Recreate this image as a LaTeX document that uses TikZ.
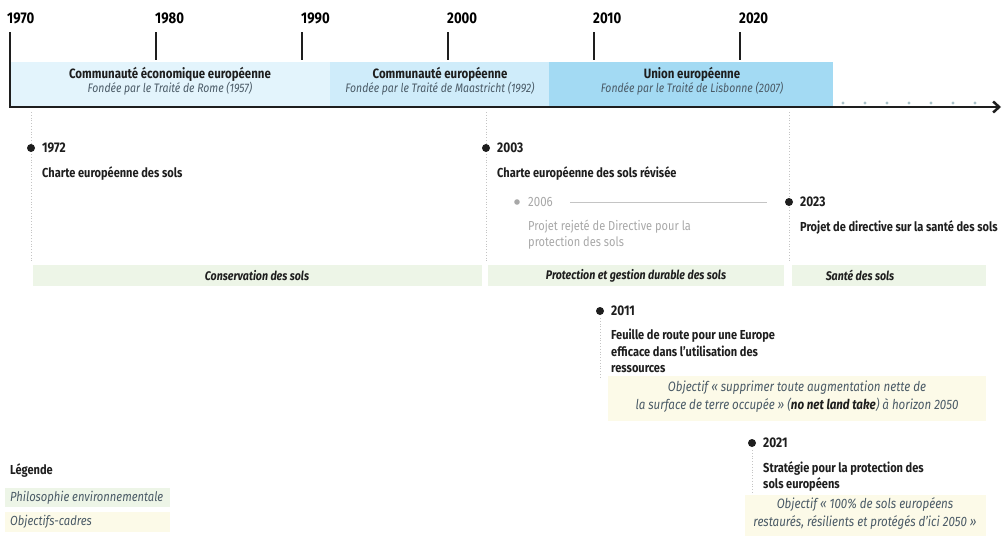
\documentclass[tikz,border=0pt]{standalone}
\usepackage{fontspec}
\setmainfont{Fira Sans}[FakeStretch=0.85]
\usetikzlibrary{positioning,arrows.meta}

\definecolor{ceeblue}{HTML}{E3F4FC}
\definecolor{ceblue}{HTML}{CFECFA}
\definecolor{ueblue}{HTML}{A3DAF3}
\definecolor{philogreen}{HTML}{EDF5E7}
\definecolor{objyellow}{HTML}{FCFAE8}
\definecolor{fadegrey}{HTML}{A8A8A8}
\definecolor{subgrey}{HTML}{4A5A66}
\definecolor{trailgrey}{HTML}{A9C2C8}
\definecolor{dotline}{HTML}{C4C4C4}
\definecolor{inkblack}{HTML}{1E1E1E}

\begin{document}
\begin{tikzpicture}[x=1pt,y=-1pt,every path/.style={>=latex},
	decade/.style={anchor=south west,inner sep=0pt,font=\fontsize{15.5}{16}\selectfont\bfseries},
	bandtitle/.style={inner sep=0pt,font=\fontsize{13.5}{14}\selectfont\bfseries,text=inkblack},
	bandsub/.style={inner sep=0pt,font=\fontsize{12.3}{13}\selectfont\itshape,text=subgrey},
	evyear/.style={anchor=west,inner sep=0pt,font=\fontsize{14}{14}\selectfont\bfseries,text=inkblack},
	evtext/.style={inner sep=0pt,align=left,font=\fontsize{13}{16.5}\selectfont\bfseries,text=inkblack},
	theme/.style={inner sep=0pt,font=\fontsize{12.5}{13}\selectfont\bfseries\itshape,text=inkblack},
	objtext/.style={inner sep=0pt,align=center,font=\fontsize{13.6}{18}\selectfont\itshape,text=subgrey},
	legtext/.style={anchor=west,inner sep=0pt,font=\fontsize{13.2}{14}\selectfont\itshape,text=subgrey},
	guide/.style={dotline,dotted,line width=0.8pt}]
	\useasboundingbox (0,0) rectangle (1004,536);

	% draw background for the treaties
	\fill[ceeblue] (10,62) rectangle (330,106);
	\fill[ceblue] (330,62) rectangle (549,106);
	\fill[ueblue] (549,62) rectangle (833,106);

	% draw decades
	\foreach \yr/\x in {1980/156,1990/302,2000/448,2010/594,2020/740}
	{
		\node[decade] (y\yr) at (\x-1,24) {\yr};
		\draw[line width=2.2pt,inkblack] (\x,32) -- (\x,60);
	}
	\node[decade] (y1970) at (7,24) {1970};

	% draw axis
	\coordinate (axstart) at (10,32);
	\coordinate (axcorner) at (10,107);
	\coordinate (axend) at (1001,107);
	\draw[line width=2.5pt,inkblack,-{Straight Barb[length=6pt,width=11pt]}] (axstart) -- (axcorner) -- (axend);

	% draw dots after 2023
	\foreach \x in {843,865,...,975}
	{
		\fill[trailgrey] (\x,103) circle (1.6pt);
	}

	% draw treaty names
	\node[bandtitle] (cee) at (170,74) {Communauté économique européenne};
	\node[bandsub] (ceesub) at (170,89) {Fondée par le Traité de Rome (1957)};
	\node[bandtitle] (ce) at (440,74) {Communauté européenne};
	\node[bandsub] (cesub) at (440,89) {Fondée par le Traité de Maastricht (1992)};
	\node[bandtitle] (ue) at (692,74) {Union européenne};
	\node[bandsub] (uesub) at (692,89) {Fondée par le Traité de Lisbonne (2007)};

	% draw green bands
	\fill[philogreen] (33,265) rectangle (482,286);
	\fill[philogreen] (488,265) rectangle (784,286);
	\fill[philogreen] (792,265) rectangle (986,286);
	\node[theme] (conservation) at (257,275.5) {Conservation des sols};
	\node[theme] (protection) at (636,275.5) {Protection et gestion durable des sols};
	\node[theme] (sante) at (860,275.5) {Santé des sols};

	% draw dotted guides
	\draw[guide] (31,112) -- (31,263);
	\draw[guide] (486,112) -- (486,263);
	\draw[guide] (789,112) -- (789,263);
	\draw[guide] (600,318) -- (600,378);
	\draw[guide] (752,450) -- (752,500);

	% draw events
	\foreach \yr/\x/\y in {1972/31/148,2003/486/148,2023/789/202,2011/600/311,2021/752/443}
	{
		\fill[inkblack] (\x,\y) circle (4pt);
		\node[evyear] (e\yr) at (\x+11,\y) {\yr};
	}
	\node[evtext,below right=13pt and 0pt of e1972.south west] (t1972) {Charte européenne des sols};
	\node[evtext,below right=13pt and 0pt of e2003.south west] (t2003) {Charte européenne des sols révisée};
	\node[evtext,below right=13pt and 0pt of e2023.south west] (t2023) {Projet de directive sur la santé des sols};
	\node[evtext,below right=13pt and 0pt of e2011.south west] (t2011) {Feuille de route pour une Europe\\efficace dans l’utilisation des\\ressources};
	\node[evtext,below right=13pt and 0pt of e2021.south west] (t2021) {Stratégie pour la protection des\\sols européens};

	% draw rejected project
	\fill[fadegrey] (517,202) circle (2.8pt);
	\node[evyear,font=\fontsize{13.5}{14}\selectfont,text=fadegrey] (e2006) at (528,202) {2006};
	\coordinate (rejend) at (767,202);
	\draw[dotline,line width=0.6pt] (570,202) -- (rejend);
	\node[evtext,font=\fontsize{13}{16.5}\selectfont,text=fadegrey,below right=13pt and 0pt of e2006.south west] (t2006) {Projet rejeté de Directive pour la\\protection des sols};

	% draw objectives
	\fill[objyellow] (608,376) rectangle (986,421);
	\node[objtext] (obj2011) at (797,397) {Objectif « supprimer toute augmentation nette de\\la surface de terre occupée » ({\bfseries\color{inkblack}no net land take}) à horizon 2050};
	\fill[objyellow] (745,495) rectangle (986,536);
	\node[objtext] (obj2021) at (865,514) {Objectif « 100\% de sols européens\\restaurés, résilients et protégés d’ici 2050 »};

	% draw legend
	\node[evtext,anchor=west] (legend) at (10,471) {Légende};
	\fill[philogreen] (5,488) rectangle (170,507);
	\node[legtext] (legphilo) at (10,497.5) {Philosophie environnementale};
	\fill[objyellow] (5,512) rectangle (170,532);
	\node[legtext] (legobj) at (10,522) {Objectifs-cadres};
\end{tikzpicture}
\end{document}
